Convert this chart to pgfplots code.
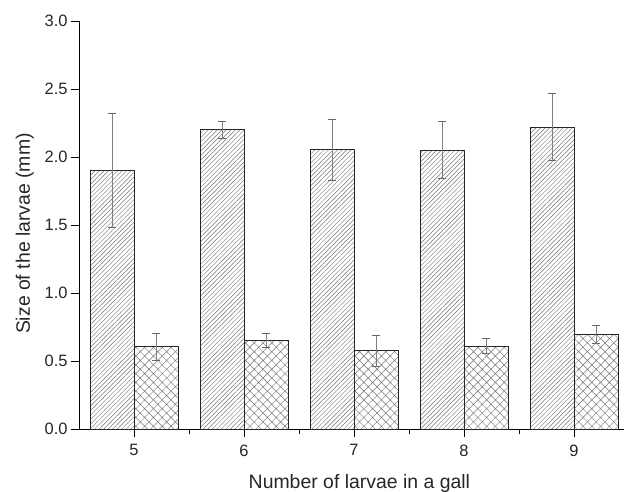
\documentclass[border=0pt]{standalone}
\usepackage{fontspec}
\setmainfont{Liberation Sans}
\usepackage{pgfplots}
\pgfplotsset{compat=1.18}
\usetikzlibrary{patterns.meta}
\begin{document}
\begin{tikzpicture}[x=1bp,y=1bp]
\begin{axis}[
  at={(0,0)}, anchor=south west,
  scale only axis,
  width=544.5bp, height=408bp,
  xmin=4.5, xmax=9.45, ymin=0, ymax=3,
  axis x line*=bottom, axis y line*=left,
  axis line style={black, line width=0.9bp, -},
  xtick={5,6,7,8,9},
  minor xtick={5.5,6.5,7.5,8.5},
  ytick={0,0.5,1,1.5,2,2.5,3},
  tick align=outside,
  major tick length=8bp, minor tick length=5bp,
  tick style={black, line width=0.9bp},
  /pgf/number format/assume math mode=true,
  yticklabel style={/pgf/number format/fixed, /pgf/number format/precision=1, /pgf/number format/fixed zerofill, font=\fontsize{16.5}{18}\selectfont, color=black!85},
  xticklabel style={font=\fontsize{16.5}{18}\selectfont, color=black!85, yshift=-4bp},
  xlabel={Number of larvae in a gall},
  ylabel={Size of the larvae (mm)},
  xlabel style={font=\fontsize{19.5}{22}\selectfont, at={(axis description cs:0.515,0)}, anchor=base, yshift=-59bp, color=black!85},
  ylabel style={font=\fontsize{19.5}{22}\selectfont, at={(axis description cs:0,0.479)}, anchor=base, yshift=49bp, color=black!85},
  clip=false,
]
\addplot[ybar, bar width=0.4, bar shift=0, draw=black!85, line width=0.9bp,
  pattern={Lines[angle=45,distance=3.2bp,line width=0.45bp]}, pattern color=black!55,
  error bars/.cd, y dir=both, y explicit,
  error bar style={black!50, line width=0.7bp},
  error mark options={rotate=90, mark size=4bp, black!60, line width=0.7bp}]
  table[x=x, y=y, y error=e] {
x y e
4.8 1.90 0.42
5.8 2.20 0.06
6.8 2.055 0.225
7.8 2.05 0.21
8.8 2.22 0.245
};
\addplot[ybar, bar width=0.4, bar shift=0, draw=black!85, line width=0.9bp,
  pattern={Hatch[angle=45,distance=6.2bp,line width=0.45bp]}, pattern color=black!55,
  error bars/.cd, y dir=both, y explicit,
  error bar style={black!50, line width=0.7bp},
  error mark options={rotate=90, mark size=4bp, black!60, line width=0.7bp}]
  table[x=x, y=y, y error=e] {
x y e
5.2 0.605 0.097
6.2 0.65 0.052
7.2 0.575 0.112
8.2 0.61 0.054
9.2 0.695 0.064
};
\end{axis}
\pgfresetboundingbox
\useasboundingbox (-79bp,-63bp) rectangle (545bp,429bp);
\end{tikzpicture}
\end{document}
